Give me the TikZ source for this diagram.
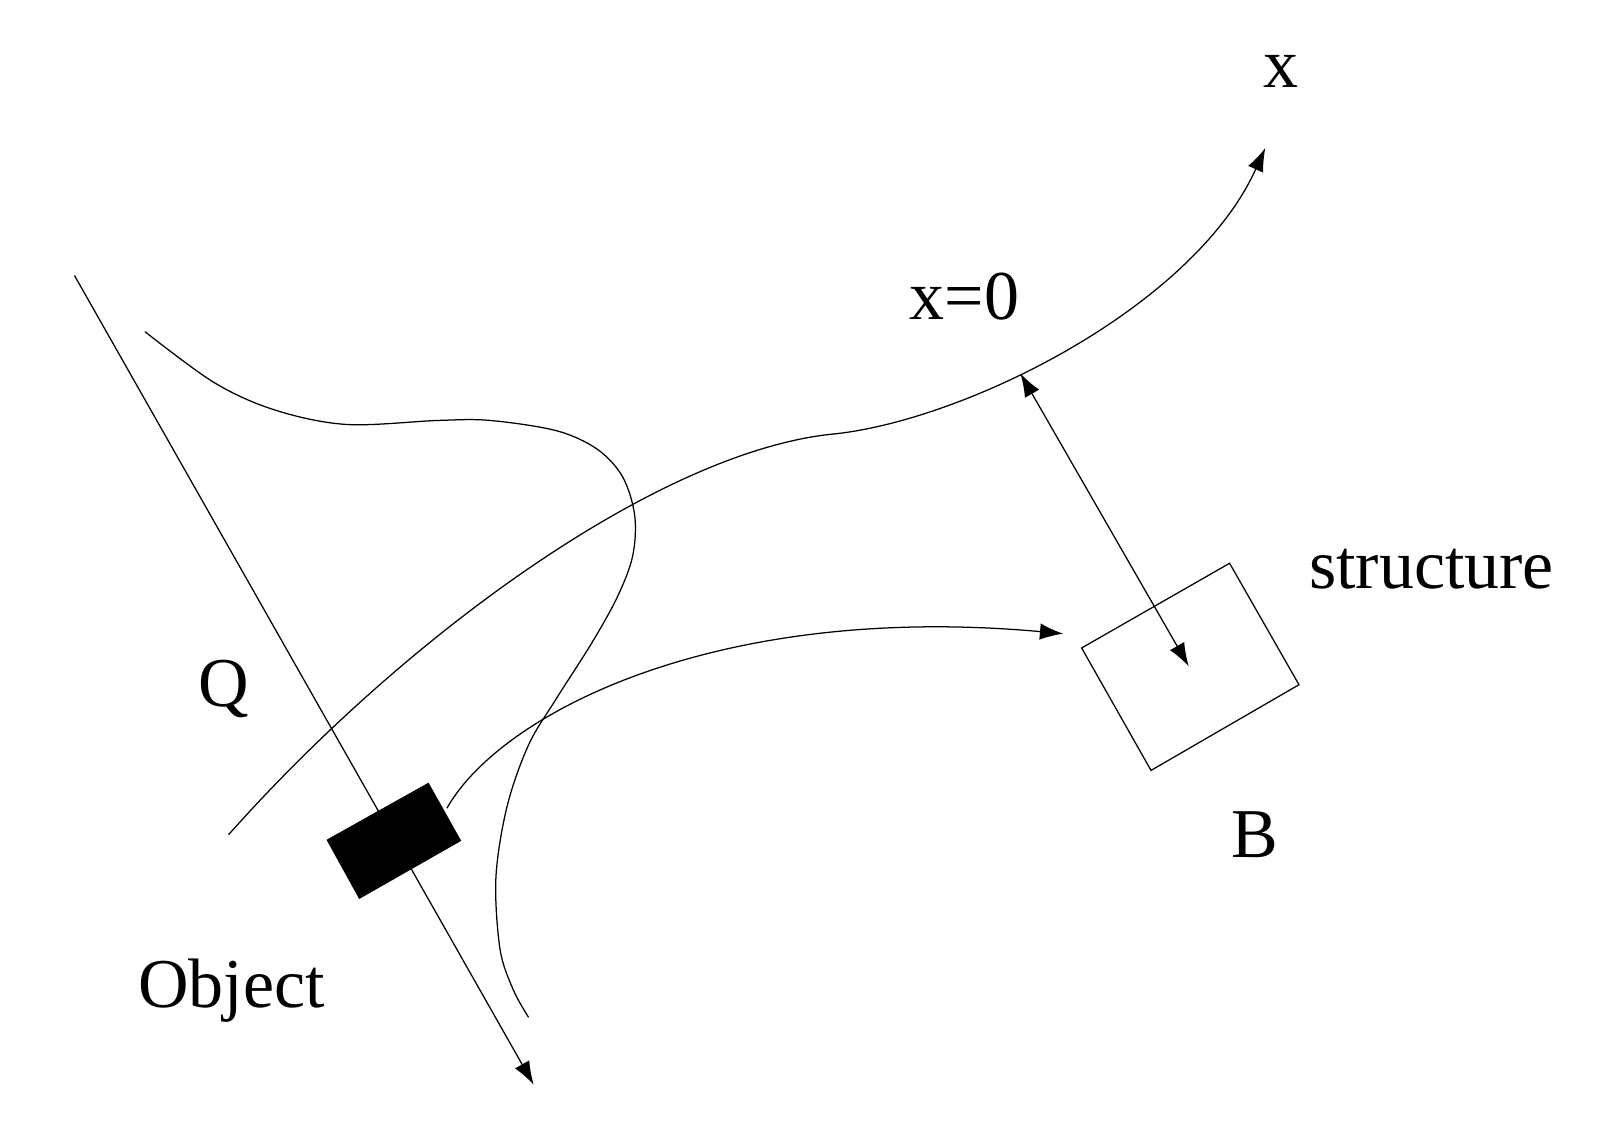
\documentclass[tikz,border=0pt]{standalone}
\usepackage{fontspec}
\setmainfont{Liberation Serif}
\usetikzlibrary{arrows.meta}
\begin{document}
\begin{tikzpicture}[x=0.01cm,y=-0.01cm,
  thin line/.style={line width=0.35pt},
  tip/.style={-{Latex[length=6.5pt,width=4.6pt]}},
  dtip/.style={{Latex[length=6.5pt,width=4.6pt]}-{Latex[length=6.5pt,width=4.6pt]}},
  lbl/.style={anchor=base,inner sep=0pt,font=\fontsize{19.5}{23}\selectfont}]
\useasboundingbox (0,0) rectangle (1568,1102);
% labels
\node[lbl] (xl) at (1255,86) {x};
\node[lbl] (x0) at (945,313) {x=0};
\node[lbl] (st) at (1403,577) {structure};
\node[lbl] (ql) at (219,692) {Q};
\node[lbl] (bl) at (1230,840) {B};
\node[lbl] (ob) at (227,987) {Object};
% coordinates
\coordinate (ls) at (73,270);
\coordinate (le) at (523,1063);
\coordinate (o1) at (320,823);
\coordinate (o2) at (420,767);
\coordinate (o3) at (452,824);
\coordinate (o4) at (352,881);
\coordinate (s1) at (1060,635);
\coordinate (s2) at (1205,552);
\coordinate (s3) at (1273,671);
\coordinate (s4) at (1128,755);
\coordinate (as) at (224,818);
\coordinate (am) at (820,425);
\coordinate (ae) at (1240,145);
\coordinate (cs) at (438,792);
\coordinate (ce) at (1042,621);
\coordinate (dt) at (1000,366);
\coordinate (db) at (1165,653);
% straight line with arrow
\draw[thin line,tip] (ls) -- (le);
% black object
\fill (o1) -- (o2) -- (o3) -- (o4) -- cycle;
% structure box
\draw[thin line] (s1) -- (s2) -- (s3) -- (s4) -- cycle;
% x axis curve
\draw[thin line,tip] (as) .. controls (400,620) and (650,440) .. (am)
  .. controls (950,410) and (1170,300) .. (ae);
% wavy curve
\draw[thin line] plot[smooth,tension=0.55] coordinates {(142,325) (210,375) (270,402) (340,416) (430,412) (480,412) (545,422) (585,440) (610,467) (622,505) (620,545) (605,585) (580,630) (545,685) (518,730) (497,790) (486,860) (490,930) (503,970) (518,997)};
% object to structure
\draw[thin line,tip] (cs) .. controls (490,700) and (700,590) .. (ce);
% double arrow
\draw[thin line,dtip] (dt) -- (db);
\end{tikzpicture}
\end{document}
